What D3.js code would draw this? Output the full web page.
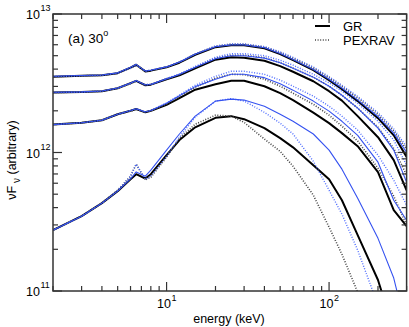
<!DOCTYPE html>
<html><head><meta charset="utf-8">
<script src="https://cdn.jsdelivr.net/npm/d3@7"></script>
<style>body{margin:0;background:#fff}svg{display:block}text{font-family:"Liberation Sans",Arial,sans-serif;fill:#000}</style>
</head><body><svg id="c" width="409" height="327"></svg>
<script>
// energies (keV)
const energies = [2,3,4,5,6,6.5,7.4,8,10,12,15,20,25,30,40,50,60,80,100,120,150,200,250,300];
// nuFnu values in units of 1e12 (arbitrary)
const g1GR     = [3.53,3.58,3.61,3.74,4.10,4.30,3.85,3.90,4.13,4.45,5.08,5.76,5.95,5.95,5.66,5.13,4.64,3.93,3.33,2.86,2.35,1.77,1.33,0.93];
const g1PEX    = [3.53,3.58,3.61,3.74,4.05,4.25,3.88,3.92,4.15,4.50,5.12,5.85,6.05,6.05,5.78,5.28,4.80,4.08,3.47,3.00,2.48,1.88,1.43,1.05];
const g1Blue   = [3.55,3.60,3.63,3.76,4.12,4.33,3.87,3.92,4.15,4.48,5.12,5.80,5.98,5.97,5.70,5.18,4.70,3.98,3.38,2.92,2.40,1.82,1.38,1.00];
const g1BlueD  = [3.53,3.58,3.61,3.74,4.07,4.27,3.89,3.93,4.16,4.52,5.15,5.88,6.08,6.08,5.82,5.33,4.86,4.14,3.53,3.06,2.54,1.94,1.48,1.10];
const g2GR     = [2.71,2.73,2.77,2.91,3.17,3.29,3.06,3.09,3.38,3.61,4.06,4.68,4.88,4.84,4.60,4.20,3.83,3.27,2.77,2.37,1.83,1.29,0.88,0.534];
const g2PEX    = [2.71,2.73,2.77,2.91,3.14,3.27,3.08,3.10,3.40,3.65,4.12,4.80,5.04,5.04,4.84,4.45,4.06,3.50,3.01,2.59,2.09,1.52,1.07,0.686];
const g2Blue   = [2.72,2.74,2.78,2.92,3.18,3.31,3.07,3.10,3.40,3.66,4.12,4.76,5.00,5.00,4.80,4.45,4.06,3.50,3.01,2.59,2.09,1.50,1.04,0.610];
const g2BlueD  = [2.71,2.73,2.77,2.91,3.15,3.28,3.09,3.11,3.42,3.70,4.18,4.88,5.17,5.17,5.00,4.64,4.27,3.67,3.19,2.77,2.27,1.68,1.23,0.810];
const g3GR     = [1.59,1.64,1.71,1.89,2.00,2.06,1.95,2.00,2.21,2.47,2.84,3.11,3.30,3.30,3.01,2.68,2.39,1.94,1.63,1.38,1.11,0.721,0.383,0.294];
const g3PEX    = [1.59,1.64,1.71,1.89,1.99,2.05,1.96,2.00,2.23,2.52,2.96,3.44,3.67,3.65,3.38,3.01,2.68,2.23,1.86,1.55,1.21,0.770,0.484,0.299];
const g3Blue   = [1.59,1.64,1.71,1.89,2.01,2.07,1.96,2.01,2.27,2.57,2.99,3.38,3.67,3.67,3.47,3.14,2.82,2.35,1.99,1.68,1.33,0.851,0.452,0.324];
const g3BlueD  = [1.59,1.64,1.71,1.89,2.00,2.06,1.97,2.01,2.28,2.60,3.06,3.55,3.86,3.86,3.67,3.33,3.01,2.55,2.16,1.83,1.45,0.956,0.631,0.416];
const g4GR     = [0.275,0.347,0.431,0.526,0.641,0.697,0.649,0.697,0.956,1.23,1.52,1.78,1.83,1.74,1.50,1.27,1.09,0.810,0.641,0.452,0.253,0.120,0.052,0.030];
const g4PEX    = [0.275,0.347,0.431,0.534,0.674,0.823,0.636,0.663,0.925,1.27,1.60,1.86,1.83,1.65,1.25,1.02,0.796,0.492,0.289,0.184,0.098,0.037,0.020,0.010];
const g4Blue   = [0.275,0.347,0.431,0.526,0.645,0.724,0.674,0.745,1.04,1.36,1.83,2.35,2.43,2.39,2.16,1.89,1.68,1.36,1.04,0.758,0.468,0.240,0.124,0.052];
const g4BlueD  = [0.275,0.347,0.431,0.534,0.674,0.823,0.641,0.674,0.940,1.29,1.80,2.35,2.45,2.35,1.95,1.63,1.36,0.865,0.534,0.359,0.197,0.079,0.037,0.020];
const UNIT = 1e12;
const xTickLabels = [{v:10,b:"10",e:"1"},{v:100,b:"10",e:"2"}];
const yTickLabels = [{v:1e11,b:"10",e:"11"},{v:1e12,b:"10",e:"12"},{v:1e13,b:"10",e:"13"}];
const legendLabels = ["GR","PEXRAV"];
const panelLabel = "(a) 30";

const M = {l:53, r:406.6, t:14, b:291};
const svg = d3.select("#c");
const x = d3.scaleLog().domain([2,300]).range([M.l,M.r]);
const y = d3.scaleLog().domain([1e11,1e13]).range([M.b,M.t]);

svg.append("clipPath").attr("id","clip").append("rect")
  .attr("x",M.l).attr("y",M.t).attr("width",M.r-M.l).attr("height",M.b-M.t);

const line = d3.line().x(d=>x(d[0])).y(d=>y(d[1]*UNIT));
const pts = arr => energies.map((e,i)=>[e,arr[i]]);
const g = svg.append("g").attr("clip-path","url(#clip)");
const styles = {
  gr:{stroke:"#000",w:2,dash:null},
  pex:{stroke:"#444",w:1.6,dash:"1,1.6"},
  blueD:{stroke:"#4d6bff",w:1.4,dash:"1,1.6"},
  blue:{stroke:"#3552f0",w:1.1,dash:null}
};
const series = [
  [g1GR,"gr"],[g2GR,"gr"],[g3GR,"gr"],[g4GR,"gr"],
  [g1PEX,"pex"],[g2PEX,"pex"],[g3PEX,"pex"],[g4PEX,"pex"],
  [g1BlueD,"blueD"],[g2BlueD,"blueD"],[g3BlueD,"blueD"],[g4BlueD,"blueD"],
  [g1Blue,"blue"],[g2Blue,"blue"],[g3Blue,"blue"],[g4Blue,"blue"]
];
series.forEach(([arr,k])=>{
  const s=styles[k];
  g.append("path").attr("d",line(pts(arr))).attr("fill","none")
   .attr("stroke",s.stroke).attr("stroke-width",s.w)
   .attr("stroke-dasharray",s.dash).attr("stroke-linejoin","round");
});

// axes with inward ticks on all four sides
const axCol="#333";
const xMajor=[10,100], xMinor=[2,3,4,5,6,7,8,9,20,30,40,50,60,70,80,90,200,300];
const yMajor=[1e11,1e12,1e13];
const yMinor=[]; [1e11,1e12].forEach(b=>{for(let k=2;k<=9;k++) yMinor.push(b*k);});
const mk = (sel,x1,y1,x2,y2)=>sel.append("line").attr("x1",x1).attr("y1",y1).attr("x2",x2).attr("y2",y2)
   .attr("stroke",axCol).attr("stroke-width",1.2);
const ax = svg.append("g");
xMajor.concat(xMinor).forEach(v=>{
  const L = xMajor.includes(v)?9:5;
  mk(ax,x(v),M.b,x(v),M.b-L); mk(ax,x(v),M.t,x(v),M.t+L);
});
yMajor.concat(yMinor).forEach(v=>{
  const L = yMajor.includes(v)?9:5;
  mk(ax,M.l,y(v),M.l+L,y(v)); mk(ax,M.r,y(v),M.r-L,y(v));
});
ax.append("rect").attr("x",M.l).attr("y",M.t).attr("width",M.r-M.l).attr("height",M.b-M.t)
  .attr("fill","none").attr("stroke",axCol).attr("stroke-width",1.5);

// tick labels
xTickLabels.forEach(t=>{
  svg.append("text").attr("x",x(t.v)-2.5).attr("y",308).attr("font-size",12.5).attr("text-anchor","middle").text(t.b);
  svg.append("text").attr("x",x(t.v)+5).attr("y",301).attr("font-size",9).text(t.e);
});
yTickLabels.forEach(t=>{
  svg.append("text").attr("x",40).attr("y",y(t.v)+5).attr("font-size",12.5).attr("text-anchor","end").text(t.b);
  svg.append("text").attr("x",40.5).attr("y",y(t.v)-3).attr("font-size",9).text(t.e);
});

// axis titles
svg.append("text").attr("x",229).attr("y",323).attr("font-size",12.5).attr("text-anchor","middle").text("energy (keV)");
const yt = svg.append("text").attr("transform","translate(16,160) rotate(-90)").attr("font-size",12.5).attr("text-anchor","middle");
yt.append("tspan").text("νF");
yt.append("tspan").attr("dy",4).attr("font-size",10).text(" ν");
yt.append("tspan").attr("dy",-4).text(" (arbitrary)");

// panel label
const pl = svg.append("text").attr("x",68).attr("y",43).attr("font-size",13.5);
pl.append("tspan").text(panelLabel);
pl.append("tspan").attr("dy",-7).attr("font-size",9).text("o");

// legend
const lg = svg.append("g");
lg.append("line").attr("x1",315).attr("x2",330).attr("y1",26).attr("y2",26).attr("stroke","#000").attr("stroke-width",2);
lg.append("line").attr("x1",315).attr("x2",330).attr("y1",40).attr("y2",40).attr("stroke","#444").attr("stroke-width",1.6).attr("stroke-dasharray","1,1.6");
lg.append("text").attr("x",343).attr("y",30.5).attr("font-size",13).text(legendLabels[0]);
lg.append("text").attr("x",343).attr("y",45).attr("font-size",13).text(legendLabels[1]);
</script></body></html>
